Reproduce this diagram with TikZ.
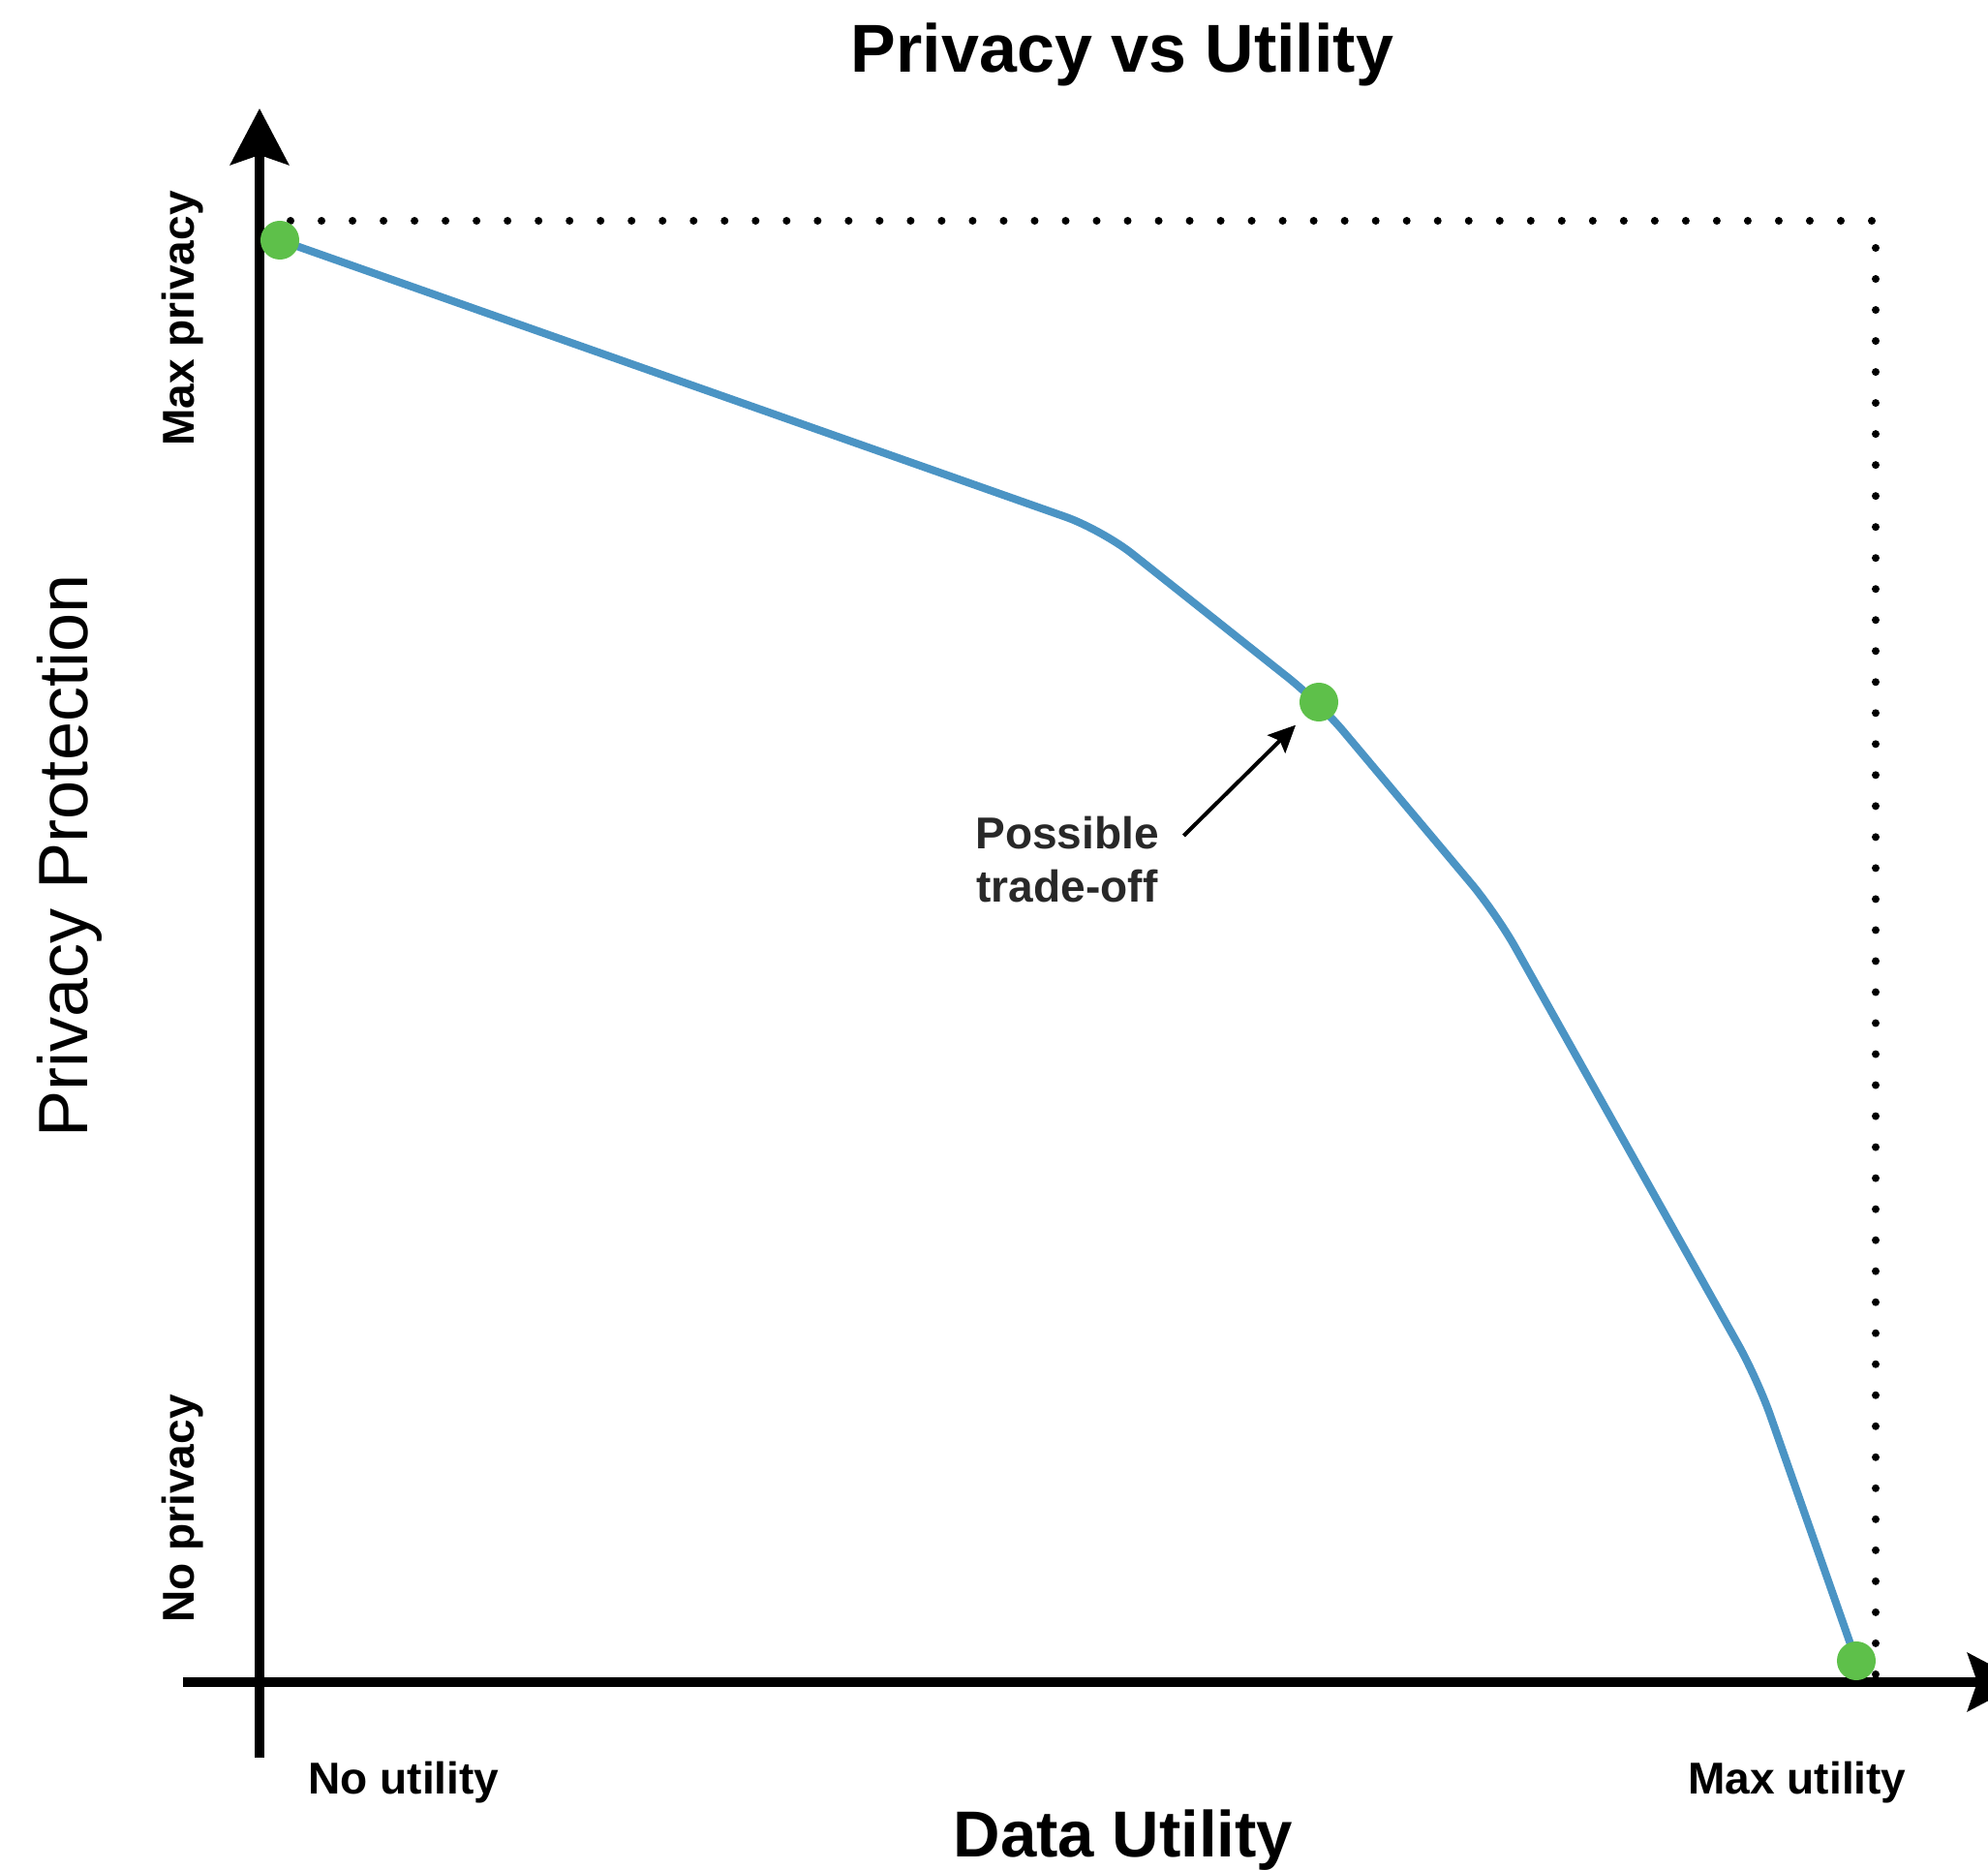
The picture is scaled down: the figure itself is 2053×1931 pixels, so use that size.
\documentclass[tikz,border=0pt]{standalone}
\usepackage{fontspec}
\setmainfont{Liberation Sans}
\usetikzlibrary{arrows.meta, calc}
\definecolor{curveblue}{RGB}{75,148,196}
\definecolor{pointgreen}{RGB}{94,192,74}
\definecolor{notegray}{RGB}{40,40,40}

\begin{document}
\begin{tikzpicture}[x=0.01cm, y=-0.01cm,
		axis/.style={line width=0.09cm, -{Stealth[length=0.58cm, width=0.6cm, inset=0.1cm]}},
		greendot/.style={circle, fill=pointgreen, minimum size=0.4cm, inner sep=0},
		tick label/.style={font=\fontsize{13.1pt}{15.65pt}\selectfont\bfseries, inner sep=0},
		axis title/.style={font=\fontsize{19.1pt}{23pt}\selectfont\bfseries, inner sep=0}]
				\useasboundingbox (0,0) rectangle (2053,1931);
				
				\node[font=\fontsize{19.9pt}{24pt}\selectfont\bfseries, anchor=base, inner sep=0] (title) at (1159,75) {Privacy vs Utility};
				
				% guide to the max corner
				\coordinate (origin) at (268,1737);
				\coordinate (corner) at (1937,228);
				\draw[line width=0.08cm, line cap=round, dash pattern=on 0pt off 0.32cm] (origin |- corner) -- (corner) -- (corner |- origin);
				
				\draw[axis] (189,1737) -- (2090,1737);
				\draw[axis] (268,1815) -- (268,112);
				
				\coordinate (p1) at (289,248);
				\coordinate (p2) at (1362,725);
				\coordinate (p3) at (1917,1715);
				\draw[curveblue, line width=0.08cm, rounded corners=0.4cm] (p1) -- (1138,547) -- (p2) -- (1545,943) -- (1815,1424) -- (p3);
				
				\node[greendot] (d1) at (p1) {};
				\node[greendot] (d2) at (p2) {};
				\node[greendot] (d3) at (p3) {};
				
				\node[tick label, rotate=90] (maxpriv) at (189,329) {Max privacy};
				\node[tick label, rotate=90] (nopriv) at (189,1558) {No privacy};
				\node[tick label, anchor=base] (noutil) at (417,1853) {No utility};
				\node[tick label, anchor=base] (maxutil) at (1856,1853) {Max utility};
				\node[axis title, anchor=base] (xtitle) at (1160,1917) {Data Utility};
				\node[font=\fontsize{20.5pt}{24pt}\selectfont, rotate=90, inner sep=0] (ytitle) at (72,884) {Privacy Protection};
				
				\node[tick label, text=notegray, align=center, anchor=north] (tradeoff) at (1102,842) {Possible\\trade-off};
				\draw[line width=0.04cm, -{Stealth[length=0.28cm, width=0.26cm, inset=0.05cm]}, shorten >=0.13cm] ([shift={(25,21)}]tradeoff.north east) -- (d2);
\end{tikzpicture}
\end{document}
